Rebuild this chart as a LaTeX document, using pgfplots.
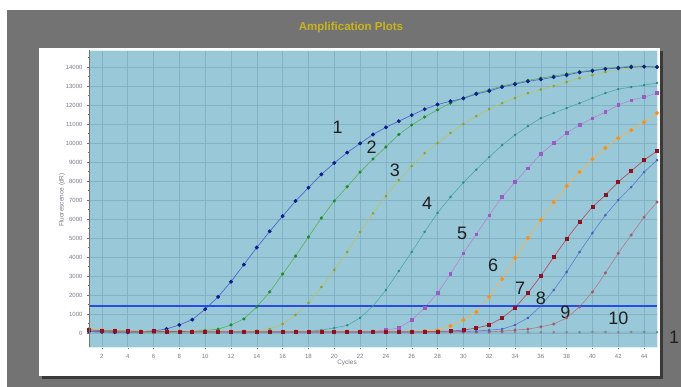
\documentclass[border=0pt]{standalone}
\usepackage{pgfplots}
\pgfplotsset{compat=1.18}
\usepackage{pgfplotstable}
\usepackage{fontspec}
\setmainfont{Liberation Sans}
\definecolor{bgout}{HTML}{737373}
\definecolor{shadowc}{HTML}{3A3A3A}
\definecolor{titlecol}{HTML}{C9B41C}
\definecolor{plotbg}{HTML}{99C9D9}
\definecolor{gridcol}{HTML}{82B2C4}
\definecolor{ticklab}{HTML}{7C7888}
\definecolor{cAl}{HTML}{5068C8}\definecolor{cAm}{HTML}{101E8C}
\definecolor{cBl}{HTML}{58B05A}\definecolor{cBm}{HTML}{1E8A30}
\definecolor{cCl}{HTML}{BCC262}\definecolor{cCm}{HTML}{8E9C34}
\definecolor{cDl}{HTML}{4CA8AA}\definecolor{cDm}{HTML}{2A8A8C}
\definecolor{cEl}{HTML}{B484D2}\definecolor{cEm}{HTML}{9A5CC2}
\definecolor{cFl}{HTML}{F2B452}\definecolor{cFm}{HTML}{F29222}
\definecolor{cGl}{HTML}{B05464}\definecolor{cGm}{HTML}{8A1222}
\definecolor{cHl}{HTML}{5A7AD2}\definecolor{cHm}{HTML}{4062BA}
\definecolor{cIl}{HTML}{B07A8A}\definecolor{cIm}{HTML}{A05A6A}
\definecolor{cJl}{HTML}{8C9CAA}\definecolor{cJm}{HTML}{7A8A98}
\definecolor{thr}{HTML}{2A4AE8}
\pgfplotstableread{
c s1 s2 s3 s4 s5 s6 s7 s8 s9 s10
1 100 80 90 70 110 200 160 60 80 60
2 60 70 60 60 80 150 120 40 60 50
3 50 60 50 50 70 130 110 40 50 40
4 40 50 50 40 60 110 100 30 50 40
5 60 50 40 40 50 90 80 30 40 40
6 100 50 50 40 50 100 90 30 40 40
7 210 60 40 40 40 80 70 30 40 40
8 420 70 50 40 40 80 80 30 40 40
9 700 90 50 40 40 70 60 30 30 40
10 1250 130 50 40 40 70 70 30 30 40
11 1900 200 60 40 40 60 60 30 30 40
12 2700 420 70 40 40 70 60 30 30 40
13 3600 740 80 50 40 60 60 30 30 40
14 4500 1370 110 50 40 60 70 30 30 40
15 5350 2160 210 50 40 60 60 30 30 40
16 6150 3100 470 50 40 60 60 30 30 40
17 6950 4050 950 60 40 70 70 30 30 40
18 7650 5050 1580 90 40 60 60 30 30 40
19 8350 6050 2420 150 40 60 60 30 30 40
20 8950 6950 3320 260 50 60 60 30 30 40
21 9500 7700 4260 400 50 70 60 30 30 40
22 9980 8470 5320 790 60 60 60 30 30 40
23 10450 9160 6300 1420 90 70 60 40 30 40
24 10830 9790 7210 2260 150 70 60 40 30 40
25 11150 10450 8050 3260 260 80 70 40 30 40
26 11470 10950 8790 4260 680 90 70 40 30 40
27 11780 11370 9470 5320 1320 110 70 50 30 40
28 12030 11750 10000 6320 2100 150 80 50 40 40
29 12200 12100 10530 7160 3100 370 100 60 40 40
30 12350 12370 11000 7920 4200 680 150 80 40 40
31 12580 12630 11420 8600 5200 1100 260 100 50 40
32 12740 12800 11790 9260 6200 1900 420 150 60 40
33 12950 13000 12100 9890 7160 2840 790 200 90 40
34 13100 13150 12370 10420 7950 3950 1320 420 150 40
35 13250 13300 12630 10890 8680 5000 2100 790 200 40
36 13350 13420 12820 11310 9420 5950 3000 1420 320 40
37 13470 13530 13000 11580 10000 6890 4000 2260 470 40
38 13580 13640 13210 11840 10530 7740 4950 3210 790 40
39 13720 13760 13420 12100 10950 8470 5840 4260 1370 40
40 13800 13840 13580 12370 11310 9160 6630 5260 2160 50
41 13900 13930 13740 12630 11630 9740 7260 6200 3160 50
42 13950 13990 13880 12840 12000 10260 7950 7000 4200 40
43 14000 14050 13950 12950 12260 10680 8530 7680 5160 50
44 14020 14050 14000 13050 12420 11100 9100 8470 6100 50
45 14000 14000 14000 13160 12630 11580 9580 9100 6890 40
}\datatable
\begin{document}
\begin{tikzpicture}
\useasboundingbox (0,0) rectangle (681pt,387pt);
\fill[white] (0,0) rectangle (681pt,387pt);
\fill[bgout] (7pt,0pt) rectangle (681pt,377pt);
\fill[shadowc] (42pt,8pt) rectangle (663pt,336pt);
\fill[white] (39pt,11pt) rectangle (660pt,339pt);
\node[text=titlecol, font=\bfseries\fontsize{11.5}{13}\selectfont] at (351pt,359pt) {Amplification Plots};
\begin{axis}[
  at={(89pt,40pt)}, anchor=south west,
  scale only axis, width=568pt, height=297pt,
  xmin=1, xmax=45, ymin=-740, ymax=14900,
  axis background/.style={fill=plotbg},
  xtick={2,4,...,44}, minor xtick={1,3,...,45},
  ytick={0,1000,...,14000}, minor ytick={500,1500,...,14500},
  xtick pos=left, ytick pos=left,
  grid=major, major grid style={gridcol, line width=0.5pt},
  tick align=outside, major tick length=2.5pt, minor tick length=1.5pt,
  every tick/.style={black!55, line width=0.4pt},
  axis line style={draw=white!70!plotbg, line width=0.8pt},
  scaled y ticks=false,
  /pgf/number format/1000 sep={},
  /pgf/number format/assume math mode=true,
  ticklabel style={font=\fontsize{6}{7}\selectfont, text=ticklab},
  xticklabel style={yshift=-1pt},
  yticklabel style={xshift=-0.5pt},
  clip=true,
]
\addplot[color=cJl, line width=0.6pt, mark=*, mark size=1.0pt, mark options={fill=cJm, draw=cJm}] table[x=c,y=s10]{\datatable};
\addplot[color=cIl, line width=0.6pt, mark=*, mark size=1.2pt, mark options={fill=cIm, draw=cIm}] table[x=c,y=s9]{\datatable};
\addplot[color=cHl, line width=0.6pt, mark=*, mark size=1.0pt, mark options={fill=cHm, draw=cHm}] table[x=c,y=s8]{\datatable};
\addplot[color=cEl, line width=0.6pt, mark=square*, mark size=1.3pt, mark options={fill=cEm, draw=cEm}] table[x=c,y=s5]{\datatable};
\addplot[color=cDl, line width=0.6pt, mark=*, mark size=0.9pt, mark options={fill=cDm, draw=cDm}] table[x=c,y=s4]{\datatable};
\addplot[color=cCl, line width=0.6pt, mark=*, mark size=1.0pt, mark options={fill=cCm, draw=cCm}] table[x=c,y=s3]{\datatable};
\addplot[color=cBl, line width=0.6pt, mark=*, mark size=1.3pt, mark options={fill=cBm, draw=cBm}] table[x=c,y=s2]{\datatable};
\addplot[color=cAl, line width=0.7pt, mark=*, mark size=1.6pt, mark options={fill=cAm, draw=cAm}] table[x=c,y=s1]{\datatable};
\addplot[color=cFl, line width=0.7pt, mark=*, mark size=1.7pt, mark options={fill=cFm, draw=cFm}] table[x=c,y=s6]{\datatable};
\addplot[color=cGl, line width=0.7pt, mark=square*, mark size=1.5pt, mark options={fill=cGm, draw=cGm}] table[x=c,y=s7]{\datatable};
\addplot[color=thr, line width=1.8pt] coordinates {(1,1420) (45,1420)};
\begin{scope}[every node/.style={font=\fontsize{18}{20}\selectfont, text=black!88}]
\node at (axis cs:20.26,10840) {1};
\node at (axis cs:22.9,9790) {2};
\node at (axis cs:24.7,8580) {3};
\node at (axis cs:27.2,6840) {4};
\node at (axis cs:29.9,5260) {5};
\node at (axis cs:32.3,3580) {6};
\node at (axis cs:34.4,2370) {7};
\node at (axis cs:36.0,1840) {8};
\node at (axis cs:37.9,1100) {9};
\node at (axis cs:42.0,790) {10};
\end{scope}
\end{axis}
\draw[black!55, line width=0.5pt] (89pt,40pt) -- (89pt,337pt);
\node[font=\fontsize{6.5}{8}\selectfont, text=ticklab] at (347pt,24pt) {Cycles};
\node[font=\fontsize{6.5}{8}\selectfont, text=ticklab, rotate=90] at (62pt,187pt) {Fluorescence (dR)};
\node[anchor=west, inner sep=0pt, font=\fontsize{18}{20}\selectfont, text=black!88] at (669pt,50pt) {1};
\end{tikzpicture}
\end{document}
